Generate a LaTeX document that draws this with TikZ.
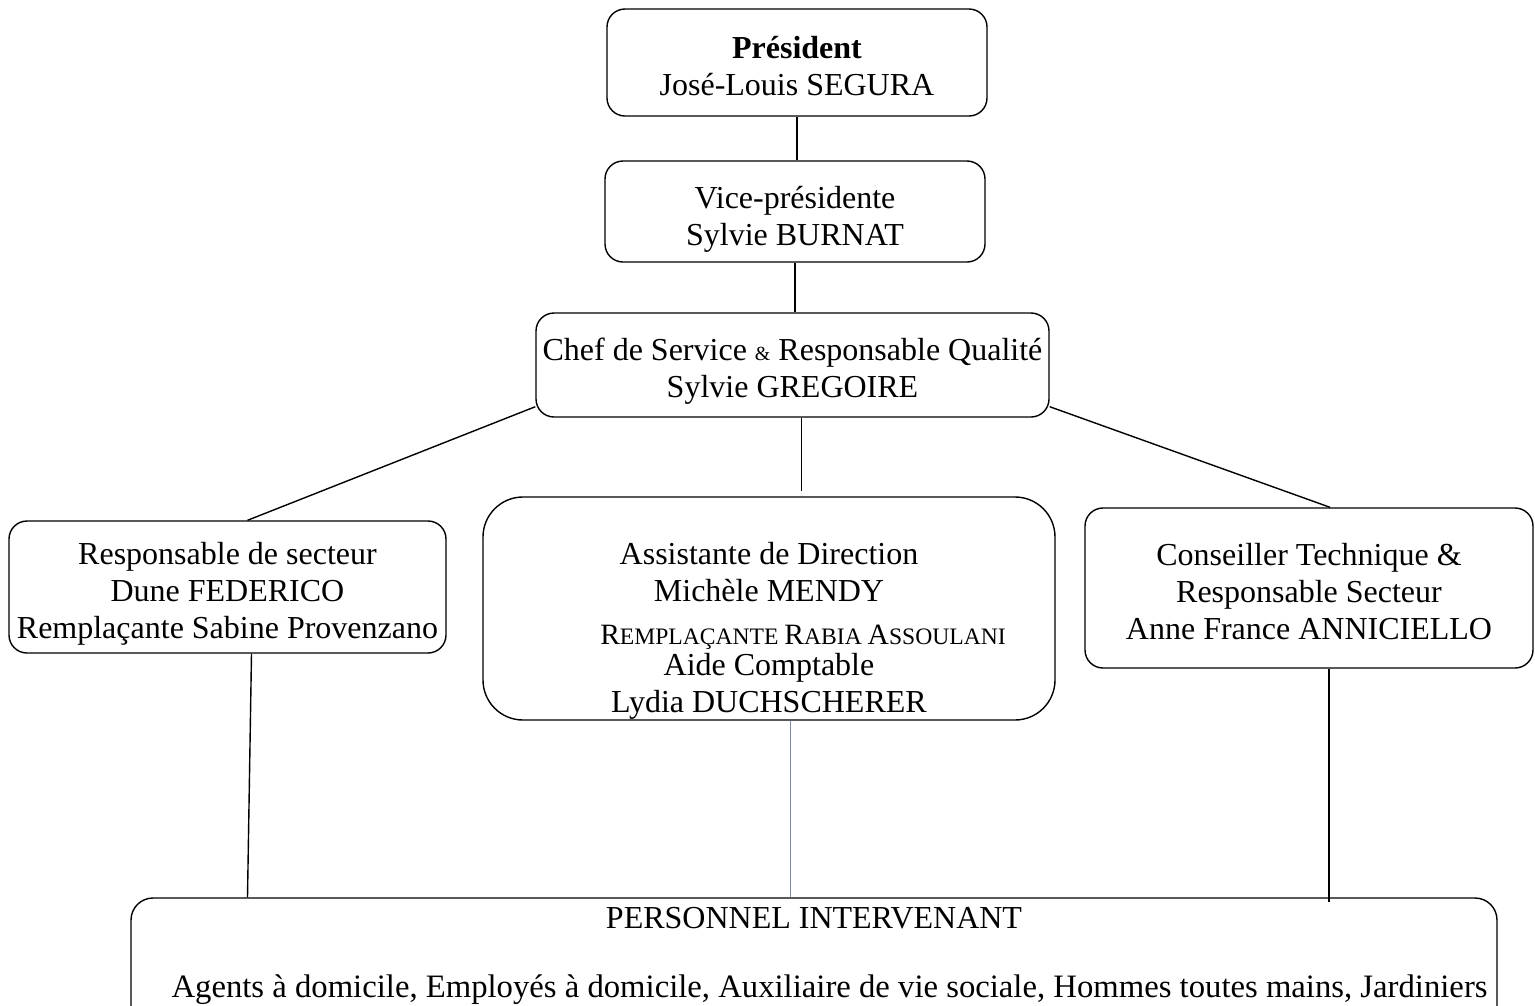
\documentclass[tikz,border=0pt]{standalone}
\usepackage{fontspec}
\setmainfont{Liberation Serif}
\usetikzlibrary{positioning}
\definecolor{slate}{RGB}{120,140,170}
\newcommand{\smc}[1]{{\fontsize{23.6}{37}\selectfont #1}}
\newcommand{\lift}[1][33]{\rule{0pt}{#1pt}}

\begin{document}
\begin{tikzpicture}[x=1pt, y=-1pt, line width=1.4pt,
  every node/.style={font=\fontsize{32}{37}\selectfont, align=center},
  box/.style={draw, rounded corners=18pt, inner sep=0pt},
  link/.style={draw, line width=1.4pt}]
  \useasboundingbox (0,0) rectangle (1535,1005);
  % boxes
  \node[box, minimum width=380pt, minimum height=107pt] (pres) at (797,62.5)
    {\lift[29]\textbf{Président}\\José-Louis SEGURA};
  \node[box, minimum width=380pt, minimum height=101pt] (vice) at (795,211.5)
    {\lift[37]Vice-présidente\\Sylvie BURNAT};
  \node[box, minimum width=513pt, minimum height=104pt] (chef) at (792.5,365)
    {\lift[35]Chef de Service {\fontsize{20}{37}\selectfont\&} Responsable Qualité\\Sylvie GREGOIRE};
  \node[box, minimum width=437pt, minimum height=132pt] (sect) at (227.5,587)
    {\lift[35]Responsable de secteur\\Dune FEDERICO\\Remplaçante Sabine Provenzano};
  \node[box, rounded corners=40pt, minimum width=572pt, minimum height=223pt] (assist) at (769,608.5) {};
  \node (assisttxt) at (769,631) {Assistante de Direction\\Michèle MENDY\\[6pt]
    \hspace*{68pt}{\fontsize{29.5}{37}\selectfont R\smc{EMPLAÇANTE }R\smc{ABIA }A\smc{SSOULANI}}\\[-6pt]
    Aide Comptable\\Lydia DUCHSCHERER};
  \node[box, minimum width=448pt, minimum height=160pt] (conseil) at (1309,588)
    {\lift[30]Conseiller Technique \&\\Responsable Secteur\\Anne France ANNICIELLO};
  \node[box, rounded corners=22pt, minimum width=1366pt, minimum height=142pt] (staff) at (814,969) {};
  \node (stafftxt) at (814,955.5) {PERSONNEL INTERVENANT\\[32pt]
    \hspace*{31pt}{\fontsize{32.7}{37}\selectfont Agents à domicile, Employés à domicile, Auxiliaire de vie sociale, Hommes toutes mains, Jardiniers}};
  % links
  \draw[link] (pres.south) -- (pres.south |- vice.north);
  \draw[link] (vice.south) -- (vice.south |- chef.north);
  \draw[link] ([xshift=9pt]chef.south) -- ([xshift=9pt,yshift=5pt]chef.south |- assist.north);
  \draw[link] ([yshift=11pt]chef.south west) -- ([xshift=20pt]sect.north);
  \draw[link] ([yshift=11pt]chef.south east) -- ([xshift=21pt]conseil.north);
  \draw[link] ([xshift=24pt]sect.south) -- ([xshift=20pt]sect.south |- staff.north);
  \draw[slate, line width=0.8pt] ([xshift=21pt]assist.south) -- ([xshift=21pt]assist.south |- staff.north);
  \draw[link] ([xshift=20pt]conseil.south) -- ([xshift=20pt,yshift=-5pt]conseil.south |- staff.north);
\end{tikzpicture}
\end{document}
